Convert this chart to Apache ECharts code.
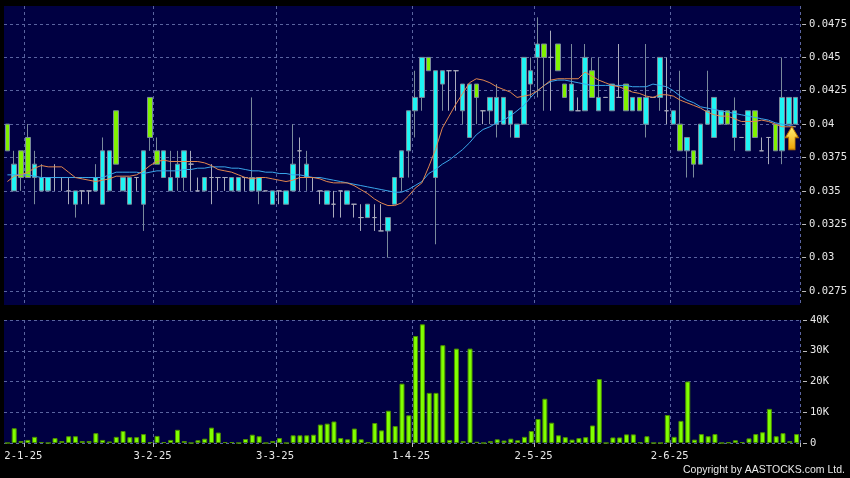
<!DOCTYPE html>
<html><head><meta charset="utf-8">
<script src="https://cdn.jsdelivr.net/npm/echarts@6/dist/echarts.min.js"></script>
<style>html,body{margin:0;padding:0;background:#000;}#c{width:850px;height:478px;}</style>
</head><body><div id="c"></div>
<script>
const dates = [
"2024-12-27","2024-12-30","2024-12-31",
"2025-01-02","2025-01-03","2025-01-06","2025-01-07","2025-01-08","2025-01-09","2025-01-10","2025-01-13","2025-01-14","2025-01-15","2025-01-16","2025-01-17","2025-01-20","2025-01-21","2025-01-22","2025-01-23","2025-01-24","2025-01-27","2025-01-28",
"2025-02-03","2025-02-04","2025-02-05","2025-02-06","2025-02-07","2025-02-10","2025-02-11","2025-02-13","2025-02-14","2025-02-17","2025-02-18","2025-02-19","2025-02-20","2025-02-21","2025-02-24","2025-02-26","2025-02-27","2025-02-28",
"2025-03-03","2025-03-04","2025-03-05","2025-03-06","2025-03-07","2025-03-10","2025-03-11","2025-03-12","2025-03-13","2025-03-14","2025-03-17","2025-03-18","2025-03-20","2025-03-21","2025-03-24","2025-03-25","2025-03-26","2025-03-27","2025-03-28","2025-03-31",
"2025-04-01","2025-04-02","2025-04-03","2025-04-07","2025-04-08","2025-04-10","2025-04-11","2025-04-14","2025-04-15","2025-04-16","2025-04-17","2025-04-22","2025-04-23","2025-04-24","2025-04-25","2025-04-28","2025-04-29","2025-04-30",
"2025-05-02","2025-05-06","2025-05-07","2025-05-08","2025-05-09","2025-05-12","2025-05-13","2025-05-14","2025-05-15","2025-05-16","2025-05-19","2025-05-20","2025-05-21","2025-05-22","2025-05-23","2025-05-26","2025-05-27","2025-05-28","2025-05-29","2025-05-30",
"2025-06-02","2025-06-03","2025-06-04","2025-06-05","2025-06-06","2025-06-09","2025-06-10","2025-06-11","2025-06-12","2025-06-13","2025-06-16","2025-06-17","2025-06-18","2025-06-19","2025-06-20","2025-06-23","2025-06-24","2025-06-25","2025-06-26"
];
const openP = [
.040,.035,.038,.039,.036,.035,.035,.036,.036,.035,
.034,.035,.035,.035,.034,.035,.041,.035,.034,.036,
.034,.042,.038,.036,.035,.036,.036,.037,.035,.035,
.036,.036,.036,.035,.035,.036,.035,.035,.035,.034,
.035,.034,.035,.038,.036,.036,.035,.034,.034,.035,
.034,.034,.033,.033,.033,.032,.032,.034,.036,.038,
.041,.042,.045,.036,.043,.044,.044,.041,.039,.043,
.041,.041,.040,.040,.040,.039,.040,.043,.045,.046,
.045,.046,.043,.041,.041,.041,.044,.041,.042,.041,
.042,.043,.041,.042,.040,.042,.042,.041,.040,.040,
.038,.038,.037,.040,.039,.040,.041,.039,.039,.038,
.041,.038,.039,.040,.038,.040,.040];
const closeP = [
.038,.037,.036,.036,.037,.036,.036,.036,.036,.035,
.035,.035,.035,.036,.038,.038,.037,.036,.036,.036,
.038,.039,.037,.038,.036,.037,.038,.037,.035,.036,
.036,.036,.036,.036,.036,.036,.036,.036,.035,.035,
.035,.035,.037,.038,.037,.036,.035,.035,.034,.035,
.035,.034,.033,.034,.033,.032,.033,.036,.038,.041,
.042,.045,.044,.044,.044,.044,.044,.043,.043,.042,
.041,.042,.042,.042,.041,.040,.045,.044,.046,.045,
.045,.044,.042,.043,.041,.045,.042,.042,.042,.043,
.042,.041,.042,.041,.042,.042,.045,.041,.041,.038,
.039,.037,.040,.041,.042,.041,.040,.041,.039,.041,
.039,.038,.039,.038,.042,.042,.042];
const lowP = [
.038,.035,.035,.036,.034,.035,.035,.035,.035,.034,
.033,.034,.034,.035,.034,.035,.037,.035,.034,.035,
.032,.038,.037,.036,.035,.035,.035,.035,.035,.035,
.034,.035,.035,.035,.035,.035,.035,.034,.035,.034,
.034,.034,.035,.035,.035,.035,.034,.034,.033,.033,
.034,.033,.032,.033,.032,.032,.030,.034,.035,.036,
.039,.041,.044,.031,.041,.041,.041,.040,.039,.040,
.040,.040,.039,.040,.039,.039,.040,.042,.042,.041,
.041,.044,.042,.041,.041,.041,.042,.041,.042,.041,
.042,.041,.041,.041,.039,.042,.041,.040,.040,.038,
.036,.036,.037,.040,.039,.040,.040,.038,.039,.038,
.039,.038,.037,.038,.037,.040,.040];
const highP = [
.040,.038,.038,.040,.038,.037,.036,.037,.036,.036,
.035,.035,.035,.037,.039,.038,.041,.036,.036,.036,
.038,.042,.039,.038,.038,.038,.038,.038,.036,.036,
.037,.036,.036,.036,.036,.036,.042,.036,.035,.035,
.035,.035,.040,.039,.038,.036,.035,.035,.035,.035,
.035,.034,.034,.034,.034,.034,.033,.036,.038,.041,
.044,.045,.045,.044,.044,.044,.044,.043,.043,.043,
.041,.042,.043,.042,.041,.040,.045,.045,.048,.046,
.047,.046,.043,.046,.042,.046,.045,.045,.042,.043,
.046,.043,.042,.042,.046,.042,.045,.045,.041,.044,
.039,.038,.040,.044,.042,.041,.041,.042,.039,.041,
.041,.039,.039,.040,.045,.042,.042];
const volume = [
0,4800,650,1000,2000,300,0,1600,650,2200,
2200,650,650,3200,1000,500,2000,3900,1900,1900,
2900,300,2300,300,1000,4300,650,0,900,1400,
5000,3400,300,300,0,1300,2700,2200,0,650,
1600,0,2500,2500,2500,2700,6000,6300,7000,1600,
1200,4700,1200,200,6500,4100,10500,5500,19300,9000,
34800,38600,16300,16300,31800,1000,30700,600,30700,400,
0,600,1200,800,1400,900,2000,3900,7800,14400,
6600,2500,1900,1100,1600,1900,5700,20800,0,1800,
1800,2800,2800,200,2200,0,0,9100,2000,7200,
20000,1100,2900,2200,2900,0,200,900,300,1500,
2900,3500,11100,2200,3200,600,2900];
const maFast = [
.0357,.0361,.0362,.0364,.0367,.0369,.0368,.0368,.0368,.0364,
.0360,.0359,.0358,.0357,.0358,.0359,.0361,.0361,.0361,.0362,
.0365,.0369,.0372,.0373,.0372,.0372,.0372,.0372,.0372,.0371,
.0369,.0366,.0365,.0364,.0362,.0360,.0359,.0360,.0360,.0359,
.0358,.0357,.0358,.0360,.0360,.0360,.0359,.0357,.0356,.0356,
.0356,.0354,.0351,.0348,.0344,.0341,.0339,.0339,.0341,.0346,
.0352,.0356,.0368,.0381,.0397,.0406,.0415,.0423,.0431,.0434,
.0433,.0431,.0428,.0426,.0424,.0420,.0421,.0422,.0425,.0429,
.0433,.0434,.0434,.0434,.0434,.0439,.0436,.0433,.0431,.0429,
.0428,.0426,.0424,.0423,.0421,.0420,.0422,.0422,.0421,.0418,
.0416,.0414,.0412,.0409,.0407,.0406,.0406,.0404,.0402,.0402,
.0402,.0403,.0402,.0400,.0398,.0398,.0398];
const maSlow = [
.0362,.0362,.0362,.0362,.0361,.0360,.0360,.0360,.0360,.0360,
.0360,.0360,.0360,.0360,.0360,.0362,.0364,.0364,.0364,.0364,
.0363,.0364,.0365,.0365,.0365,.0365,.0366,.0366,.0367,.0367,
.0368,.0368,.0368,.0367,.0367,.0366,.0365,.0365,.0364,.0364,
.0363,.0363,.0362,.0362,.0361,.0360,.0360,.0359,.0358,.0357,
.0356,.0355,.0354,.0353,.0352,.0351,.0350,.0349,.0349,.0351,
.0354,.0357,.0363,.0366,.0370,.0373,.0377,.0381,.0386,.0392,
.0396,.0398,.0401,.0403,.0406,.0410,.0414,.0420,.0425,.0429,
.0432,.0433,.0433,.0432,.0431,.0430,.0429,.0429,.0429,.0429,
.0429,.0429,.0428,.0428,.0428,.0430,.0429,.0428,.0425,.0421,
.0418,.0416,.0413,.0412,.0411,.0410,.0409,.0408,.0407,.0406,
.0405,.0404,.0403,.0401,.0400,.0399,.0398];
const signalIndex = 115;
const signalPrice = 0.03896;

const candles = dates.map((d, i) => [openP[i], closeP[i], lowP[i], highP[i]]);
const monthStarts = dates.map((d, i) => (i > 0 && d.slice(0, 7) !== dates[i - 1].slice(0, 7)) ? i : -1).filter(i => i >= 0);
const isMonthStart = (i) => monthStarts.indexOf(i) >= 0;
const fmtDate = (d) => { const p = d.split('-'); return (+p[2]) + '-' + (+p[1]) + '-' + p[0].slice(2); };

const navy = '#000042';
const dashed = { show: true, lineStyle: { color: '#5a64a0', type: [3, 3], width: 1 } };
const labelFont = { color: '#e8e8e8', fontFamily: 'DejaVu Sans Mono', fontSize: 10.5 };
const hiddenCat = (g) => ({ type: 'category', gridIndex: g, data: dates, boundaryGap: true,
  axisLine: { show: false }, axisTick: { show: false }, axisLabel: { show: false }, splitLine: { show: false } });

const chart = echarts.init(document.getElementById('c'), null, { renderer: 'canvas' });
chart.setOption({
  backgroundColor: '#000',
  animation: false,
  grid: [
    { left: 4, top: 6, width: 796, height: 299, show: true, backgroundColor: navy, borderWidth: 0 },
    { left: 4, top: 24, width: 796, height: 267, show: false },
    { left: 4, top: 320, width: 796, height: 123, show: true, backgroundColor: navy, borderWidth: 0 }
  ],
  xAxis: [
    Object.assign(hiddenCat(0), { splitLine: Object.assign({}, dashed, { interval: (i) => isMonthStart(i) }) }),
    hiddenCat(1),
    { type: 'category', gridIndex: 2, data: dates, boundaryGap: true,
      axisLine: { show: false },
      axisTick: { show: true, interval: (i) => isMonthStart(i), length: 4, lineStyle: { color: '#bbbbbb' } },
      axisLabel: Object.assign({ interval: (i) => isMonthStart(i), formatter: fmtDate, margin: 8, padding: [0, 9, 0, 0] }, labelFont),
      splitLine: Object.assign({}, dashed, { interval: (i) => isMonthStart(i) }) }
  ],
  yAxis: [
    { type: 'value', gridIndex: 0, min: 0, max: 1, show: false },
    { type: 'value', gridIndex: 1, position: 'right', min: 0.0275, max: 0.0475, interval: 0.0025, offset: 3,
      axisLine: { show: false }, axisTick: { show: true, length: 4, lineStyle: { color: '#bbbbbb' } },
      axisLabel: Object.assign({ margin: 7, formatter: (v) => String(+v.toFixed(4)) }, labelFont),
      splitLine: dashed },
    { type: 'value', gridIndex: 2, position: 'right', min: 0, max: 40000, interval: 10000, offset: 3,
      axisLine: { show: false }, axisTick: { show: true, length: 4, lineStyle: { color: '#bbbbbb' } },
      axisLabel: Object.assign({ margin: 7, formatter: (v) => v === 0 ? '0' : (v / 1000) + 'K' }, labelFont),
      splitLine: dashed }
  ],
  series: [
    { type: 'candlestick', xAxisIndex: 1, yAxisIndex: 1, data: candles, barWidth: 5, clip: false, z: 2,
      itemStyle: { color: '#1ef4f4', color0: '#80f200', borderColor: '#7a8a9c', borderColor0: '#7a8a9c',
        borderColorDoji: '#a9abbb', borderWidth: 1 },
      markPoint: { silent: true, symbol: 'path://M6.5,0L13,11L9.7,11L9.7,23L3.3,23L3.3,11L0,11Z',
        symbolSize: [13, 23], symbolOffset: [3, 0], label: { show: false },
        itemStyle: { color: new echarts.graphic.LinearGradient(0, 0, 0, 1, [
          { offset: 0, color: '#fff27a' }, { offset: 1, color: '#eda000' }]), borderColor: '#b87400', borderWidth: 1 },
        data: [{ coord: [dates[signalIndex], signalPrice] }] } },
    { type: 'line', xAxisIndex: 1, yAxisIndex: 1, data: maSlow, symbol: 'none', z: 3,
      lineStyle: { color: '#3aa6ea', width: 1 } },
    { type: 'line', xAxisIndex: 1, yAxisIndex: 1, data: maFast, symbol: 'none', z: 4,
      lineStyle: { color: '#e2874f', width: 1 } },
    { type: 'bar', xAxisIndex: 2, yAxisIndex: 2, data: volume, barWidth: 5,
      itemStyle: { color: '#80ff00', borderColor: '#4c8f00', borderWidth: 1 } }
  ],
  graphic: [
    { type: 'text', right: 5, top: 465, silent: true,
      style: { text: 'Copyright by AASTOCKS.com Ltd.', fill: '#e8e8e8', font: '10.5px "Liberation Sans"' } }
  ]
});
</script>
</body></html>
